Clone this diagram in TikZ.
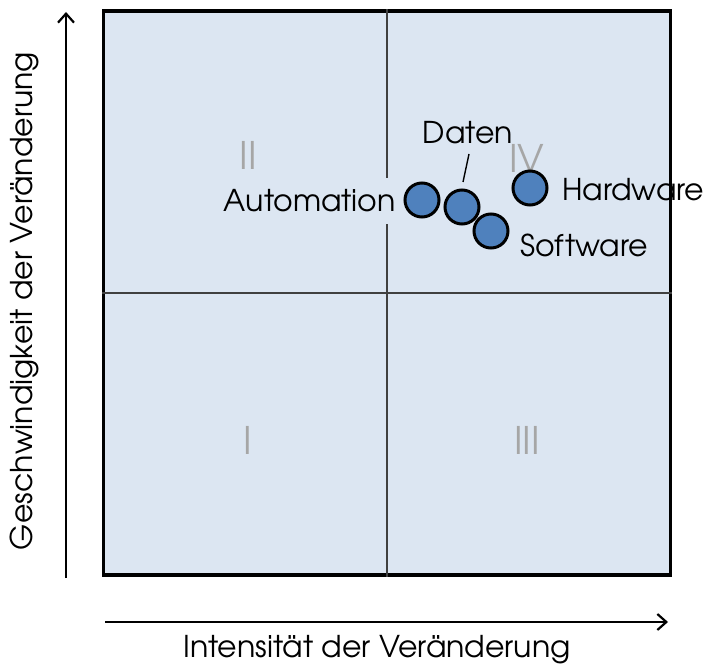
\documentclass[tikz,border=0pt]{standalone}
\usepackage{fontspec}
\setmainfont{texgyreadventor-regular.otf}
\usetikzlibrary{arrows.meta}
\definecolor{quadbg}{HTML}{DCE6F2}
\definecolor{dotblue}{HTML}{4F81BD}
\definecolor{quadgray}{HTML}{A6A6A6}
\definecolor{gridline}{HTML}{404040}
\begin{document}
\begin{tikzpicture}[x=1pt,y=-1pt,
  axislabel/.style={font=\fontsize{30}{32}\selectfont},
  itemlabel/.style={font=\fontsize{30}{32}\selectfont, inner sep=2pt},
  quadlabel/.style={font=\fontsize{38}{40}\selectfont, text=quadgray},
  dot/.style={circle, draw=black, line width=3pt, fill=dotblue, minimum size=34pt, inner sep=0pt},
  axisarrow/.style={line width=2.2pt, -{Straight Barb[length=9pt,width=16pt,line width=2.2pt]}}
]
\useasboundingbox (0,0) rectangle (710,668);

% quadrant field
\node[draw=black, line width=3.2pt, fill=quadbg, minimum width=567pt, minimum height=564pt, inner sep=0pt] (field) at (387,293) {};
\draw[gridline, line width=1.5pt] (field.north) -- (field.south);
\draw[gridline, line width=1.5pt] (field.west) -- (field.east);

% quadrant numbers
\node[quadlabel] (q2) at (248,155) {II};
\node[quadlabel] (q4) at (527,158) {IV};
\node[quadlabel] (q1) at (248,440) {I};
\node[quadlabel] (q3) at (527,440) {III};

% axes
\coordinate (ybot) at (66,578);
\coordinate (ytop) at (66,12);
\coordinate (xleft) at (105,622);
\coordinate (xright) at (668,622);
\draw[axisarrow] (ybot) -- (ytop);
\draw[axisarrow] (xleft) -- (xright);
\node[axislabel, rotate=90] (ylab) at (24,301) {Geschwindigkeit der Veränderung};
\node[axislabel] (xlab) at (377,650) {Intensität der Veränderung};

% labels of the data points
\node[itemlabel, fill=quadbg, anchor=east, inner ysep=12pt] (tauto) at (398,201) {Automation};
\node[itemlabel, anchor=center] (tdaten) at (468,133) {Daten};
\node[itemlabel, anchor=west] (thard) at (560,190) {Hardware};
\node[itemlabel, anchor=west] (tsoft) at (518,245) {Software};

% data points
\node[dot] (auto) at (422,200) {};
\node[dot] (daten) at (462,207) {};
\node[dot] (soft) at (491,231) {};
\node[dot] (hard) at (530,188) {};

% leader from the Daten label to its point
\coordinate (dstart) at (469,154);
\coordinate (dend) at (463,182);
\draw[line width=1.4pt] (dstart) -- (dend);
\end{tikzpicture}
\end{document}
